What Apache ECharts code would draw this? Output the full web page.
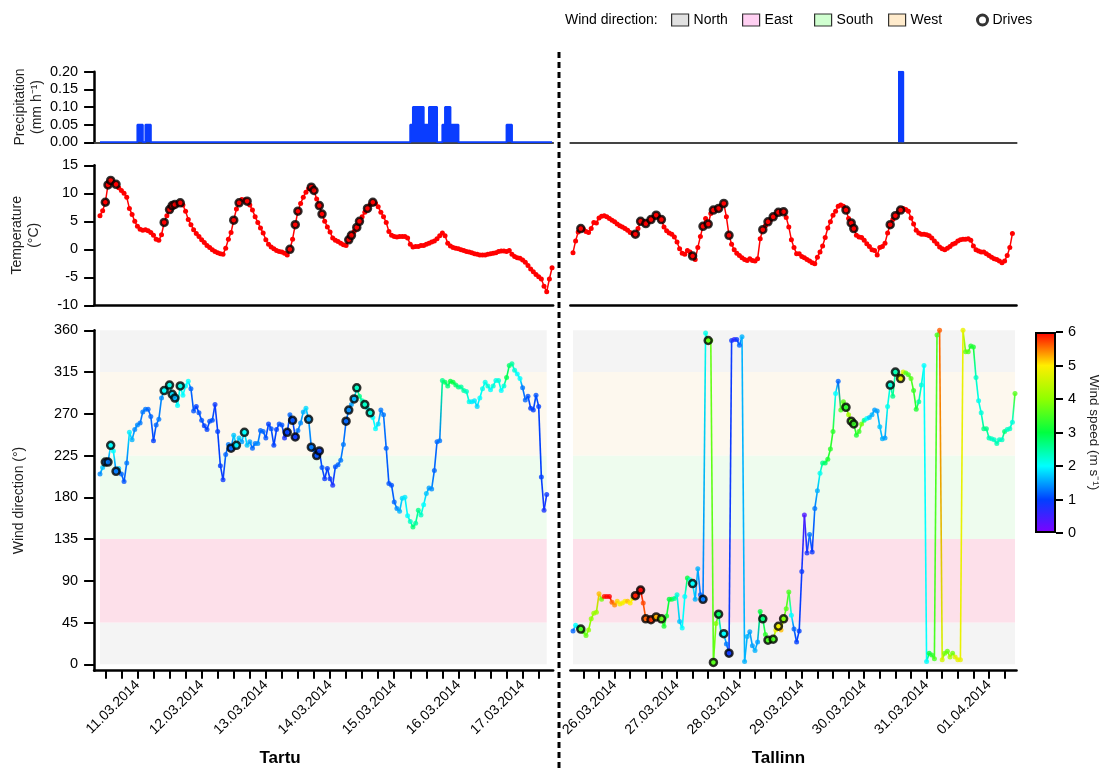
<!DOCTYPE html>
<html>
<head>
<meta charset="utf-8">
<title>Tartu / Tallinn weather during drives</title>
<script src="https://cdn.jsdelivr.net/npm/echarts@6.0.0/dist/echarts.min.js"></script>
<style>
  html, body { margin: 0; padding: 0; background: #fff; }
  #chart { width: 1103px; height: 769px; }
</style>
</head>
<body>
<div id="chart"></div>
<script>
// ---- data (hourly samples, hour 0 = first sample of each station) ----
const tartuDays = ['11.03.2014', '12.03.2014', '13.03.2014', '14.03.2014', '15.03.2014', '16.03.2014', '17.03.2014'];
const tallinnDays = ['26.03.2014', '27.03.2014', '28.03.2014', '29.03.2014', '30.03.2014', '31.03.2014', '01.04.2014'];

// precipitation: [hour, mm/h]
const tartuPrecip = [[14, 0.05], [15, 0.05], [17, 0.05], [18, 0.05], [116, 0.05], [117, 0.1], [118, 0.1], [119, 0.1], [120, 0.1],
  [121, 0.05], [122, 0.05], [123, 0.1], [124, 0.1], [125, 0.1], [128, 0.05], [129, 0.1], [130, 0.1], [131, 0.05], [132, 0.05],
  [133, 0.05], [152, 0.05], [153, 0.05]];
const tallinnPrecip = [[125, 0.2], [126, 0.2]];

const tartuTemp = [
  6.0, 6.9, 8.4, 11.5, 12.3, 11.9, 11.6, 11.0, 10.5, 10.0,
  9.3, 7.3, 6.2, 5.0, 4.1, 3.6, 3.4, 3.5, 3.3, 3.0,
  2.5, 1.8, 1.6, 2.6, 4.8, 6.0, 7.1, 7.8, 8.0, 8.2,
  8.3, 7.9, 6.8, 5.3, 4.4, 3.5, 2.8, 2.3, 1.7, 1.2,
  0.7, 0.3, -0.1, -0.4, -0.6, -0.8, -0.9, 0.2, 1.8, 3.0,
  5.2, 7.2, 8.3, 8.9, 8.8, 8.6, 7.9, 7.0, 5.8, 4.8,
  3.8, 2.9, 1.7, 0.9, 0.4, 0.1, -0.2, -0.4, -0.5, -0.7,
  -1.0, 0.0, 1.8, 4.4, 6.8, 8.2, 9.3, 10.2, 10.8, 11.1,
  10.5, 9.0, 7.8, 6.3, 5.0, 4.0, 3.1, 2.0, 1.6, 1.4,
  1.1, 0.8, 0.7, 1.7, 2.5, 3.2, 3.9, 5.0, 5.8, 6.6,
  7.3, 8.0, 8.4, 8.2, 7.6, 6.6, 5.8, 4.8, 3.2, 2.5,
  2.3, 2.2, 2.3, 2.3, 2.3, 2.0, 0.9, 0.4, 0.5, 0.5,
  0.7, 0.7, 0.9, 1.1, 1.3, 1.5, 1.9, 2.4, 2.9, 2.4,
  1.1, 0.6, 0.3, 0.2, 0.1, -0.1, -0.2, -0.4, -0.5, -0.6,
  -0.8, -0.9, -1.0, -1.0, -1.0, -0.9, -0.8, -0.7, -0.6, -0.4,
  -0.3, -0.3, -0.4, -0.2, -0.9, -1.3, -1.5, -1.6, -1.9, -2.3,
  -2.9, -3.5, -4.0, -4.5, -4.9, -5.3, -6.6, -7.6, -5.3, -3.3
];
const tallinnTemp = [
  -0.6, 1.5, 3.1, 3.7, 3.6, 3.2, 3.0, 3.7, 4.8, 4.7,
  5.6, 5.9, 6.0, 5.8, 5.5, 5.2, 4.9, 4.5, 4.2, 4.0,
  3.7, 3.4, 3.0, 2.8, 2.7, 3.7, 5.0, 4.9, 4.6, 5.0,
  5.3, 5.7, 6.1, 5.8, 5.3, 4.0, 3.3, 2.9, 2.7, 2.2,
  1.3, 0.1, -0.7, -0.9, -0.2, -0.5, -1.2, -1.8, 0.3, 2.3,
  4.1, 5.5, 4.5, 6.4, 7.0, 7.2, 7.3, 7.8, 8.2, 5.8,
  2.5, 0.9, -0.1, -0.7, -1.1, -1.5, -1.8, -2.0, -1.7, -2.0,
  -2.1, -1.7, 1.9, 3.5, 4.2, 4.9, 5.3, 5.8, 6.2, 6.6,
  6.7, 6.7, 5.7, 4.0, 1.7, 0.3, -0.8, -0.8, -1.3, -1.5,
  -1.8, -2.1, -2.4, -2.6, -1.4, -0.5, 0.6, 2.1, 3.8, 4.9,
  6.1, 6.8, 7.7, 7.9, 7.7, 7.0, 5.5, 4.7, 3.7, 2.5,
  2.2, 2.1, 1.6, 1.0, 0.5, -0.1, -0.2, -1.0, 0.3, 0.5,
  1.1, 2.9, 4.4, 5.3, 6.0, 6.6, 7.0, 7.3, 7.1, 6.8,
  5.6, 4.5, 3.4, 2.9, 2.7, 2.7, 2.6, 2.4, 2.0, 1.5,
  1.0, 0.4, 0.1, -0.1, 0.2, 0.5, 0.9, 1.1, 1.5, 1.7,
  1.8, 1.8, 1.9, 1.6, 0.6, -0.1, -0.3, -0.5, -0.5, -0.8,
  -1.1, -1.4, -1.7, -1.8, -2.1, -2.4, -2.1, -1.1, 0.3, 2.8
];

const tartuWindDir = [
  205, 212, 218, 218, 236, 230, 208, 211, 205, 197,
  217, 250, 242, 253, 258, 260, 272, 275, 275, 267,
  241, 258, 264, 287, 295, 298, 301, 291, 287, 279,
  300, 290, 300, 305, 297, 273, 278, 271, 263, 257,
  253, 262, 263, 280, 251, 214, 199, 226, 237, 233,
  247, 236, 244, 240, 250, 236, 240, 233, 238, 238,
  252, 251, 244, 259, 254, 236, 253, 259, 258, 244,
  250, 269, 263, 245, 252, 260, 272, 276, 264, 234,
  231, 225, 230, 212, 200, 211, 200, 193, 213, 215,
  220, 237, 262, 274, 280, 286, 298, 289, 284, 280,
  276, 271, 266, 254, 259, 274, 269, 233, 195, 193,
  175, 168, 165, 179, 180, 160, 154, 148, 152, 166,
  161, 172, 184, 190, 189, 209, 240, 241, 306, 304,
  300, 305, 304, 301, 299, 299, 295, 294, 283, 283,
  284, 278, 287, 297, 304, 300, 296, 300, 306, 306,
  295, 300, 309, 322, 324, 317, 313, 308, 298, 285,
  289, 276, 274, 290, 278, 202, 166, 183
];
const tartuWindSpeed = [
  1.4, 1.7, 1.4, 1.3, 2.0, 2.0, 1.3, 1.7, 1.2, 1.1,
  1.3, 1.9, 1.6, 1.4, 1.4, 1.3, 1.3, 1.3, 1.2, 1.2,
  1.0, 1.2, 1.3, 1.4, 2.0, 2.0, 2.1, 1.8, 1.6, 2.0,
  2.1, 2.0, 2.0, 2.0, 1.2, 1.1, 1.0, 1.1, 1.1, 1.0,
  1.0, 1.1, 1.1, 0.9, 1.0, 1.0, 0.9, 1.2, 1.3, 1.2,
  1.7, 1.9, 1.7, 1.5, 2.0, 1.7, 1.5, 1.2, 1.3, 1.4,
  1.2, 1.2, 1.1, 1.0, 1.1, 1.0, 1.0, 1.1, 1.1, 0.8,
  1.0, 1.2, 1.1, 0.9, 1.3, 1.4, 1.6, 1.8, 1.5, 1.3,
  1.2, 1.1, 1.0, 1.1, 0.9, 1.0, 0.9, 0.8, 1.1, 1.2,
  1.3, 1.3, 1.2, 1.4, 1.5, 1.6, 2.3, 2.6, 2.4, 2.3,
  2.1, 2.2, 2.0, 2.0, 1.8, 1.3, 1.3, 1.2, 1.1, 1.1,
  1.2, 1.4, 1.6, 1.8, 1.9, 2.0, 2.3, 2.7, 2.5, 2.6,
  2.3, 2.0, 1.7, 1.5, 1.4, 1.2, 1.2, 1.3, 2.6, 2.8,
  2.7, 3.0, 3.0, 2.8, 2.7, 2.5, 2.5, 2.3, 2.1, 1.9,
  1.9, 1.8, 2.0, 2.1, 2.1, 2.2, 2.0, 2.2, 2.1, 2.2,
  2.0, 2.2, 2.9, 2.8, 2.5, 2.2, 2.0, 2.0, 1.3, 1.2,
  1.1, 1.0, 1.0, 1.1, 1.0, 1.0, 0.8, 0.9
];
const tallinnWindDir = [
  36, 42, 40, 38, 35, 31, 37, 49, 55, 56,
  76, 70, 73, 73, 73, 67, 64, 68, 65, 66,
  68, 68, 66, 71, 74, 77, 80, 66, 49, 49,
  48, 50, 51, 50, 49, 41, 52, 70, 70, 71,
  75, 46, 39, 73, 93, 91, 87, 70, 103, 75,
  70, 357, 349, 349, 2, 44, 54, 32, 33, 22,
  12, 349, 350, 350, 344, 353, 3, 30, 35, 20,
  15, 24, 57, 49, 32, 26, 26, 27, 37, 41,
  37, 49, 60, 78, 53, 38, 24, 36, 100, 161,
  120, 140, 121, 168, 187, 206, 217, 217, 221, 232,
  251, 292, 305, 274, 283, 277, 269, 262, 259, 247,
  251, 259, 263, 265, 266, 269, 274, 273, 256, 243,
  244, 278, 301, 289, 315, 312, 308, 315, 314, 312,
  308, 295, 275, 283, 301, 322, 3, 12, 10, 6,
  355, 360, 5, 12, 14, 8, 12, 8, 5, 5,
  360, 337, 337, 343, 342, 309, 284, 271, 254, 254,
  244, 243, 242, 238, 242, 242, 251, 253, 254, 261,
  292
];
const tallinnWindSpeed = [
  1.2, 2.0, 2.2, 3.5, 3.6, 3.7, 4.0, 4.0, 4.1, 4.1,
  5.2, 3.8, 5.9, 6.0, 6.0, 5.6, 5.4, 5.1, 4.9, 4.9,
  5.0, 5.2, 5.0, 4.9, 5.9, 5.8, 6.0, 5.7, 5.6, 5.8,
  5.8, 5.3, 5.3, 4.3, 3.7, 3.2, 3.2, 3.0, 3.1, 2.6,
  2.2, 1.7, 2.0, 2.0, 3.0, 2.2, 2.0, 1.6, 1.6, 1.2,
  1.3, 2.1, 3.7, 3.7, 3.6, 3.9, 2.8, 1.8, 2.0, 1.3,
  0.9, 0.9, 0.6, 0.9, 1.2, 1.6, 1.6, 1.6, 1.5, 1.5,
  1.6, 1.5, 3.0, 2.7, 3.3, 3.5, 3.5, 3.5, 4.8, 4.9,
  5.2, 3.9, 3.6, 3.5, 2.0, 1.2, 1.0, 1.0, 0.9, 0.4,
  0.8, 1.3, 0.9, 1.3, 1.6, 2.1, 2.6, 2.8, 3.2, 3.3,
  3.3, 2.0, 1.2, 3.5, 3.6, 3.3, 4.2, 3.6, 3.4, 3.2,
  3.4, 3.8, 2.6, 2.0, 1.7, 1.6, 1.5, 1.5, 1.7, 1.6,
  1.5, 2.1, 2.2, 2.6, 2.4, 4.5, 4.8, 4.6, 3.6, 3.5,
  3.6, 3.4, 3.2, 2.5, 2.2, 2.0, 2.0, 3.0, 3.3, 3.5,
  3.5, 5.6, 4.6, 3.8, 3.7, 4.2, 3.8, 4.7, 4.8, 4.8,
  4.8, 3.7, 3.6, 3.2, 3.2, 2.3, 2.1, 2.2, 2.6, 2.6,
  2.4, 2.3, 2.3, 2.4, 2.3, 2.3, 2.7, 2.3, 2.3, 2.2,
  3.6
];

// hours (sample index) at which a drive took place
const tartuTempDrives = [2, 3, 4, 6, 24, 26, 27, 28, 30, 50, 52, 55, 71, 73, 74, 79, 80, 82, 83, 93, 94, 96, 97, 100, 102];
const tartuWindDrives = [2, 3, 4, 6, 24, 26, 27, 28, 30, 49, 51, 54, 70, 72, 73, 78, 79, 81, 82, 92, 93, 95, 96, 99, 101];
const tallinnDrives = [3, 24, 26, 28, 30, 32, 34, 46, 50, 52, 54, 56, 58, 60, 73, 75, 77, 79, 81, 105, 107, 108, 122, 124, 126];

const directionTicks = [0, 45, 90, 135, 180, 225, 270, 315, 360];
const directionBands = [
  { name: 'North', from: 0, to: 45 },
  { name: 'East', from: 45, to: 135 },
  { name: 'South', from: 135, to: 225 },
  { name: 'West', from: 225, to: 315 },
  { name: 'North', from: 315, to: 360 }
];
const windSpeedRange = [0, 6];

// ---- styles / layout ----
const FONT = '"Liberation Sans", Arial, sans-serif';
const bandFill = { North: '#f4f4f4', East: '#fde0ea', South: '#eefcee', West: '#fdf8ee' };
const legendFill = { North: '#d9d9d9', East: '#ffc4ef', South: '#c4ffc4', West: '#ffe6bf' };
const speedColors = ['#8000ff', '#0040ff', '#00ffff', '#00ff40', '#90ff00', '#ffee00', '#ff0000'];
const ROWS = {
  precip: { top: 71.7, height: 70.6 },
  temp: { top: 165.3, height: 140 },
  wind: { top: 330.3, height: 340.4 }
};

function hexToRgb (h) {
  return [1, 3, 5].map(k => parseInt(h.substr(k, 2), 16));
}
function speedColor (s) {
  const n = speedColors.length - 1;
  const t = Math.max(0, Math.min(n, (s - windSpeedRange[0]) / (windSpeedRange[1] - windSpeedRange[0]) * n));
  const i = Math.min(n - 1, Math.floor(t));
  const f = t - i;
  const a = hexToRgb(speedColors[i]);
  const b = hexToRgb(speedColors[i + 1]);
  return 'rgb(' + a.map((v, k) => Math.round(v + (b[k] - v) * f)).join(',') + ')';
}

const stations = [
  {
    name: 'Tartu', namePad: 87, days: tartuDays, firstMidnight: 14,
    temp: tartuTemp, tempDrives: tartuTempDrives, dir: tartuWindDir, speed: tartuWindSpeed, windDrives: tartuWindDrives,
    precip: tartuPrecip, precipBaseline: true, showY: true,
    layout: { xmin: -2.2, xmax: 169.4, left: 94.1, pxPerHour: 2.675 }
  },
  {
    name: 'Tallinn', namePad: 30, days: tallinnDays, firstMidnight: 16,
    temp: tallinnTemp, tempDrives: tallinnDrives, dir: tallinnWindDir, speed: tallinnWindSpeed, windDrives: tallinnDrives,
    precip: tallinnPrecip, precipBaseline: false, showY: false,
    layout: { xmin: -1.0, xmax: 170.6, left: 570.4, pxPerHour: 2.6 }
  }
];

const grids = [];
const xAxes = [];
const yAxes = [];
const series = [];

const yCommon = {
  type: 'value',
  splitLine: { show: false },
  axisLine: { show: true, onZero: false, lineStyle: { color: '#000', width: 2.5 } },
  axisTick: { show: true, length: 10, lineStyle: { color: '#000', width: 2 } },
  nameLocation: 'middle',
  nameRotate: 90,
  nameTextStyle: { fontSize: 14, color: '#222', fontFamily: FONT, lineHeight: 17 }
};
const yLabel = { color: '#000', fontSize: 14.5, fontFamily: FONT, margin: 16 };

function precipData (st) {
  if (st.precipBaseline) {
    const vals = st.temp.map(() => 0);
    st.precip.forEach(([h, v]) => { vals[h] = v });
    return vals.map((v, h) => [h, v]);
  }
  const data = st.precip.map(p => p.slice());
  const last = st.precip[st.precip.length - 1];
  data.push([last[0] + 1, 0]);
  return data;
}

stations.forEach(st => {
  const L = st.layout;
  const width = (L.xmax - L.xmin) * L.pxPerHour;
  const xBase = {
    type: 'value', min: L.xmin, max: L.xmax,
    splitLine: { show: false }, axisLabel: { show: false }, axisTick: { show: false }
  };

  // precipitation
  const gP = grids.length;
  grids.push({ left: L.left, top: ROWS.precip.top, width, height: ROWS.precip.height });
  xAxes.push({ ...xBase, gridIndex: gP, axisLine: { onZero: false, lineStyle: { color: '#444', width: 2 } } });
  yAxes.push({
    ...yCommon, gridIndex: gP, min: 0, max: 0.2, interval: 0.05, show: st.showY,
    axisLabel: { ...yLabel, formatter: v => v.toFixed(2) },
    name: 'Precipitation\n(mm h\u207B\u00B9)', nameGap: 48
  });
  series.push({
    type: 'line', xAxisIndex: gP, yAxisIndex: gP, data: precipData(st), step: 'end',
    symbol: 'none', silent: true, z: 3,
    lineStyle: { color: '#0a3dff', width: 2 }, areaStyle: { color: '#0a3dff', opacity: 1 }
  });

  // temperature
  const gT = grids.length;
  grids.push({ left: L.left, top: ROWS.temp.top, width, height: ROWS.temp.height });
  xAxes.push({ ...xBase, gridIndex: gT, axisLine: { onZero: false, lineStyle: { color: '#000', width: 2.5 } } });
  yAxes.push({
    ...yCommon, gridIndex: gT, min: -10, max: 15, interval: 5, show: st.showY,
    axisLabel: { ...yLabel },
    name: 'Temperature\n(\u00B0C)', nameGap: 51
  });
  series.push({
    type: 'line', xAxisIndex: gT, yAxisIndex: gT, data: st.temp.map((t, i) => [i, t]),
    symbol: 'circle', symbolSize: 5, showSymbol: true, silent: true, z: 3,
    lineStyle: { color: '#ff0000', width: 1.5 }, itemStyle: { color: '#ff0000' }
  });
  series.push({
    type: 'scatter', xAxisIndex: gT, yAxisIndex: gT, data: st.tempDrives.map(i => [i, st.temp[i]]),
    symbolSize: 7, silent: true, z: 4,
    itemStyle: { color: '#ff0000', borderColor: '#000', borderWidth: 2.5 }
  });

  // wind direction
  const gW = grids.length;
  grids.push({ left: L.left, top: ROWS.wind.top, width, height: ROWS.wind.height });
  const tickHours = [];
  for (let h = st.firstMidnight - 12; h <= L.xmax; h += 6) if (h >= L.xmin) tickHours.push(h);
  const labelHours = st.days.map((d, k) => st.firstMidnight + 24 * k);
  xAxes.push({
    type: 'value', gridIndex: gW, min: L.xmin, max: L.xmax, splitLine: { show: false },
    axisLine: { onZero: false, lineStyle: { color: '#000', width: 2.5 } },
    axisTick: { show: true, customValues: tickHours, length: 8, lineStyle: { color: '#000', width: 2 } },
    axisLabel: {
      show: true, customValues: labelHours, rotate: 45, margin: 12,
      color: '#000', fontSize: 14, fontFamily: FONT,
      formatter: v => st.days[Math.round((v - st.firstMidnight) / 24)]
    },
    name: st.name, nameLocation: 'middle', nameGap: 79,
    nameTextStyle: { fontSize: 17, fontWeight: 'bold', color: '#000', fontFamily: FONT, padding: [0, st.namePad, 0, 0] }
  });
  yAxes.push({
    ...yCommon, gridIndex: gW, min: -6.9, max: 360, show: st.showY,
    axisTick: { ...yCommon.axisTick, customValues: directionTicks },
    axisLabel: { ...yLabel, customValues: directionTicks },
    name: 'Wind direction (\u00B0)', nameGap: 66
  });
  const lastHour = st.dir.length - 1;
  series.push({
    type: 'custom', xAxisIndex: gW, yAxisIndex: gW, silent: true, z: 1,
    data: directionBands.map(b => [0, lastHour, b.from, b.to]),
    encode: { x: [0, 1], y: [2, 3] },
    renderItem: (params, api) => {
      const tl = api.coord([api.value(0), api.value(3)]);
      const br = api.coord([api.value(1), api.value(2)]);
      return {
        type: 'rect',
        shape: { x: tl[0], y: tl[1], width: br[0] - tl[0], height: br[1] - tl[1] },
        style: { fill: bandFill[directionBands[params.dataIndex].name] }
      };
    }
  });
  series.push({
    type: 'custom', xAxisIndex: gW, yAxisIndex: gW, silent: true, z: 2,
    data: st.dir.slice(0, -1).map((d, i) => [i, d, i + 1, st.dir[i + 1]]),
    encode: { x: [0, 2], y: [1, 3] },
    renderItem: (params, api) => {
      const a = api.coord([api.value(0), api.value(1)]);
      const b = api.coord([api.value(2), api.value(3)]);
      const i = params.dataIndex;
      return {
        type: 'line',
        shape: { x1: a[0], y1: a[1], x2: b[0], y2: b[1] },
        style: {
          stroke: new echarts.graphic.LinearGradient(a[0], a[1], b[0], b[1] + 0.01, [
            { offset: 0, color: speedColor(st.speed[i]) },
            { offset: 1, color: speedColor(st.speed[i + 1]) }
          ], true),
          lineWidth: 1.6
        }
      };
    }
  });
  series.push({
    type: 'scatter', xAxisIndex: gW, yAxisIndex: gW, silent: true, z: 3, symbolSize: 5,
    data: st.dir.map((d, i) => ({ value: [i, d], itemStyle: { color: speedColor(st.speed[i]) } }))
  });
  series.push({
    type: 'scatter', xAxisIndex: gW, yAxisIndex: gW, silent: true, z: 4, symbolSize: 7,
    data: st.windDrives.map(i => ({
      value: [i, st.dir[i]],
      itemStyle: { color: speedColor(st.speed[i]), borderColor: '#000', borderWidth: 2.5 }
    }))
  });
});

// wind speed colour bar
const gC = grids.length;
grids.push({ left: 1035, top: 332, width: 21, height: 201 });
xAxes.push({ type: 'category', gridIndex: gC, data: ['speed'], show: false });
yAxes.push({
  type: 'value', gridIndex: gC, position: 'right', min: windSpeedRange[0], max: windSpeedRange[1], interval: 1,
  splitLine: { show: false },
  axisLine: { show: false },
  axisTick: { show: true, length: 7, lineStyle: { color: '#000', width: 2 } },
  axisLabel: { color: '#000', fontSize: 14.5, fontFamily: FONT, margin: 12 },
  name: 'Wind speed (m s\u207B\u00B9)', nameLocation: 'middle', nameRotate: -90, nameGap: 31,
  nameTextStyle: { fontSize: 13.5, color: '#222', fontFamily: FONT }
});
series.push({
  type: 'bar', xAxisIndex: gC, yAxisIndex: gC, data: [windSpeedRange[1]], barWidth: '100%', silent: true,
  itemStyle: {
    color: new echarts.graphic.LinearGradient(0, 1, 0, 0,
      speedColors.map((c, i) => ({ offset: i / (speedColors.length - 1), color: c }))),
    borderColor: '#000', borderWidth: 2
  }
});

// legend-only series
['North', 'East', 'South', 'West'].forEach(n => {
  series.push({ type: 'scatter', name: n, xAxisIndex: 2, yAxisIndex: 2, data: [], itemStyle: { color: legendFill[n] } });
});
series.push({ type: 'scatter', name: 'Drives', xAxisIndex: 2, yAxisIndex: 2, data: [], itemStyle: { color: '#fff' } });

const legendSlots = [
  { name: 'North', left: 671 }, { name: 'East', left: 742 }, { name: 'South', left: 814 },
  { name: 'West', left: 888 }, { name: 'Drives', left: 976 }
];
const legends = legendSlots.map(s => {
  const drives = s.name === 'Drives';
  return {
    left: s.left, top: 13, padding: 0, selectedMode: false, data: [s.name],
    icon: drives ? 'circle' : 'rect',
    itemWidth: drives ? 10 : 17, itemHeight: drives ? 10 : 12,
    itemStyle: { borderColor: '#000', borderWidth: drives ? 3 : 1.2 },
    textStyle: { fontSize: 14, color: '#000', fontFamily: FONT }
  };
});

const chart = echarts.init(document.getElementById('chart'));
chart.setOption({
  animation: false,
  backgroundColor: '#fff',
  textStyle: { fontFamily: FONT },
  grid: grids,
  xAxis: xAxes,
  yAxis: yAxes,
  legend: legends,
  series,
  graphic: [
    { type: 'text', left: 565, top: 13, style: { text: 'Wind direction:', font: '14px ' + FONT, fill: '#000' } },
    { type: 'line', z: 10, shape: { x1: 559, y1: 52, x2: 559, y2: 769 }, style: { stroke: '#000', lineWidth: 3, lineDash: [6, 4] } }
  ]
});
</script>
</body>
</html>
